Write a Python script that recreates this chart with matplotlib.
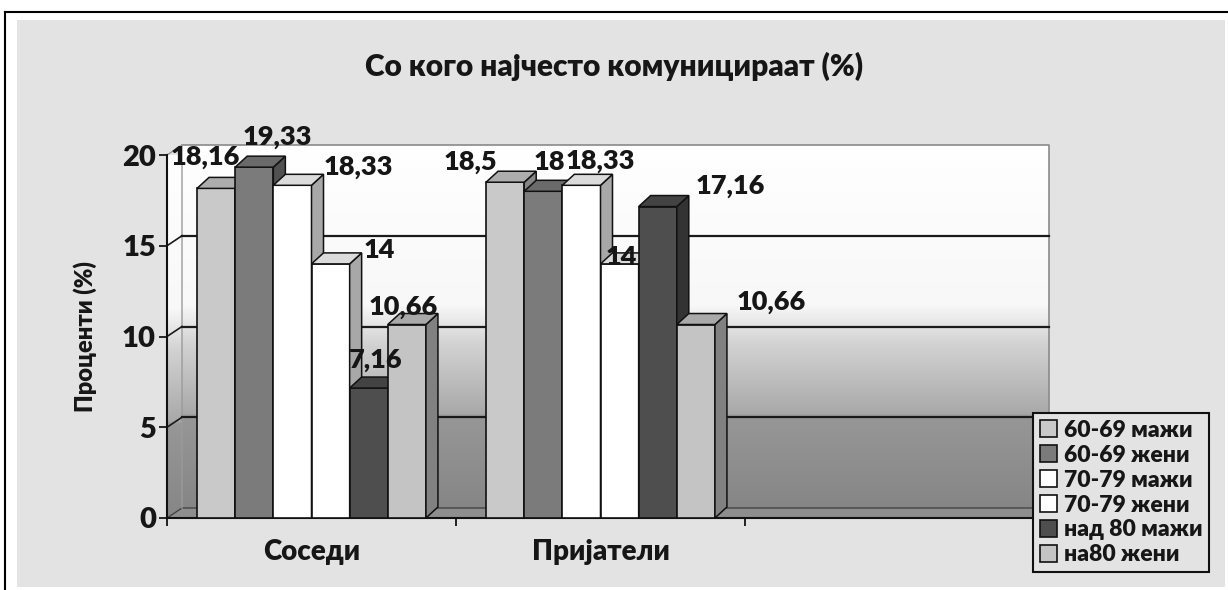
import numpy as np
import matplotlib
matplotlib.use("Agg")
import matplotlib.pyplot as plt
from matplotlib.patches import Polygon, Rectangle
from matplotlib.lines import Line2D
from matplotlib.colors import LinearSegmentedColormap

plt.rcParams['font.family'] = ['Lato', 'DejaVu Sans']
plt.rcParams['font.weight'] = 'heavy'
FW = 'heavy'

# data
categories = ['Соседи', 'Пријатели', '']
series = ['60-69 мажи', '60-69 жени', '70-79 мажи', '70-79 жени', 'над 80 мажи', 'на80 жени']
m60 = [18.16, 18.5]
z60 = [19.33, 18]
m70 = [18.33, 18.33]
z70 = [14, 14]
m80 = [7.16, 17.16]
z80 = [10.66, 10.66]
values = [m60, z60, m70, z70, m80, z80]
yticks = [0, 5, 10, 15, 20]

colors = ['#c9c9c9', '#7b7b7b', '#ffffff', '#ffffff', '#4e4e4e', '#c4c4c4']
# label offsets in pixels from top centre of each bar (per series, per category)
lab_off = [[(-11, 31), (-35, 20)],
           [(23, 30), (6, 29)],
           [(66, 18), (19, 24)],
           [(49, 14), (2, 7)],
           [(7, 28), (73, 21)],
           [(-4, 18), (75, 23)]]

W, H = 1228, 590
fig = plt.figure(figsize=(W / 100, H / 100), dpi=100)
fig.patch.set_facecolor('white')

# chart area background and scanned frame
fig.patches.append(Rectangle((17 / W, 1 - 587 / H), (1225 - 17) / W, (587 - 20) / H,
                             transform=fig.transFigure, facecolor='#e3e3e3', edgecolor='none', zorder=-5))
fig.lines.append(Line2D([5 / W, 1], [1 - 12 / H] * 2, transform=fig.transFigure, color='k', lw=1.5))
fig.lines.append(Line2D([5 / W] * 2, [0, 1 - 12 / H], transform=fig.transFigure, color='k', lw=1.5))

ax = fig.add_axes([167 / W, (H - 518) / H, (1034 - 167) / W, 363 / H])
ax.patch.set_visible(False)

ncat = len(categories)
ymax = 20
# depth of walls and bars (in data units)
wdx, wdy = 15 / 289, 10 / 18.15
bdx, bdy = 12 / 289, 11 / 18.15

wall_cmap = LinearSegmentedColormap.from_list('wall', [
    (0.0, '#868686'), (0.25, '#979797'), (0.26, '#a9a9a9'),
    (0.45, '#d2d2d2'), (0.56, '#f8f8f8'), (1.0, '#ffffff')])
grad = np.linspace(0, 1, 256).reshape(-1, 1)

# back wall
ax.imshow(grad, cmap=wall_cmap, origin='lower', aspect='auto',
          extent=(wdx, ncat + wdx, wdy, ymax + wdy), zorder=0, clip_on=False)
# side wall
side = ax.imshow(grad, cmap=wall_cmap, origin='lower', aspect='auto',
                 extent=(0, wdx, 0, ymax + wdy), zorder=0, clip_on=True)
side_poly = Polygon([(0, 0), (wdx, wdy), (wdx, ymax + wdy), (0, ymax)], transform=ax.transData)
side.set_clip_path(side_poly)
# floor
ax.add_patch(Polygon([(0, 0), (ncat, 0), (ncat + wdx, wdy), (wdx, wdy)],
                     facecolor='#8e8e8e', edgecolor='#444444', lw=1, zorder=0.5, clip_on=False))

# wall outlines and gridlines
ax.plot([wdx, ncat + wdx, ncat + wdx], [ymax + wdy, ymax + wdy, wdy], color='#8a8a8a', lw=1.2,
        zorder=1, clip_on=False)
ax.plot([0, wdx, wdx], [ymax, ymax + wdy, wdy], color='#9a9a9a', lw=1, zorder=1, clip_on=False)
for v in yticks[1:-1]:
    ax.plot([wdx, ncat + wdx], [v + wdy] * 2, color='#1a1a1a', lw=1.6, zorder=1.5, clip_on=False)
    ax.plot([0, wdx], [v, v + wdy], color='#1a1a1a', lw=1.2, zorder=1.5, clip_on=False)
ax.plot([ncat, ncat + wdx], [0, wdy], color='#222222', lw=1.4, zorder=1.5, clip_on=False)


def shade(c, f):
    rgb = np.array(matplotlib.colors.to_rgb(c))
    return tuple(np.clip(rgb * f, 0, 1))


gap = 0.104
bw = (1 - 2 * gap) / len(series)
xcat = np.arange(len(m60))
for j, (name, vals) in enumerate(zip(series, values)):
    z = 3 + j
    x0 = xcat + gap + j * bw
    ax.bar(x0, vals, width=bw, align='edge', color=colors[j], edgecolor='#111111',
           lw=1.2, label=name, zorder=z)
    for k, (xl, h) in enumerate(zip(x0, vals)):
        xr = xl + bw
        ax.add_patch(Polygon([(xr, 0), (xr + bdx, bdy), (xr + bdx, h + bdy), (xr, h)],
                             facecolor=shade(colors[j], 0.66), edgecolor='#111111', lw=1.1,
                             zorder=z, clip_on=False))
        ax.add_patch(Polygon([(xl, h), (xr, h), (xr + bdx, h + bdy), (xl + bdx, h + bdy)],
                             facecolor=shade(colors[j], 0.86), edgecolor='#111111', lw=1.1,
                             zorder=z, clip_on=False))
        txt = ('%g' % h).replace('.', ',')
        ax.annotate(txt, (xl + bw / 2, h), xytext=lab_off[j][k], textcoords='offset pixels',
                    ha='center', va='center', fontsize=19.5, fontweight=FW,
                    color='#161616', zorder=20, annotation_clip=False)

ax.set_xlim(0, ncat)
ax.set_ylim(0, ymax)

for s in ['top', 'right']:
    ax.spines[s].set_visible(False)
for s in ['left', 'bottom']:
    ax.spines[s].set_color('#111111')
    ax.spines[s].set_linewidth(1.5)
    ax.spines[s].set_zorder(2)

ax.set_yticks(yticks)
ax.set_yticklabels([str(t) for t in yticks], fontsize=21, fontweight=FW)
ax.tick_params(axis='y', length=6, width=1.3, pad=2, colors='#161616')
ax.set_xticks(np.arange(ncat + 1))
ax.set_xticklabels([])
ax.tick_params(axis='x', which='major', length=6, width=1.3, colors='#111111')
ax.set_xticks(np.arange(ncat) + 0.5, minor=True)
ax.set_xticklabels(categories, minor=True, fontsize=20, fontweight=FW)
ax.tick_params(axis='x', which='minor', length=0, pad=15, colors='#161616')

ax.set_ylabel('Проценти (%)', fontsize=17, fontweight=FW, color='#161616')
ax.yaxis.set_label_coords(-0.081, 0.5)

fig.text(0.5, 1 - 66 / H, 'Со кого најчесто комуницираат (%)', ha='center', va='center',
         fontsize=21.5, fontweight=FW, color='#161616')

leg = fig.legend(loc='upper left', bbox_to_anchor=(1033 / W, 1 - 413 / H), fontsize=16.5,
                 frameon=True, fancybox=False, framealpha=1, facecolor='#e3e3e3',
                 edgecolor='#111111', handlelength=0.75, handleheight=0.75, handletextpad=0.3,
                 labelspacing=0.17, borderpad=0.3, borderaxespad=0)
leg.get_frame().set_linewidth(1.5)
for t in leg.get_texts():
    t.set_fontweight(FW)
    t.set_color('#161616')

fig.savefig('out.png', dpi=100)
